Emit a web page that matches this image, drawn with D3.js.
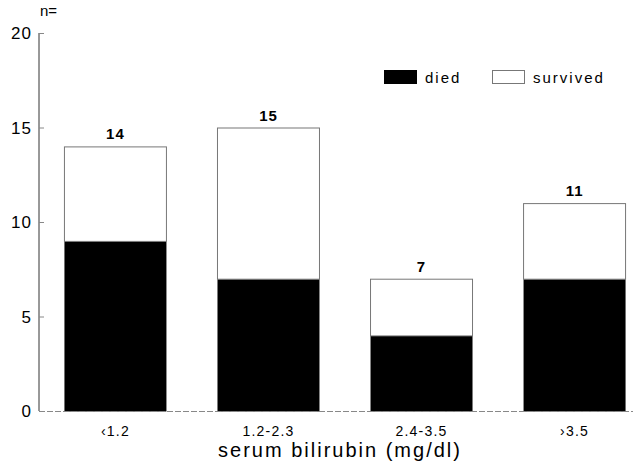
<!DOCTYPE html>
<html>
<head>
<meta charset="utf-8">
<script src="https://cdn.jsdelivr.net/npm/d3@7"></script>
<style>
  body { margin: 0; background: #fff; }
  svg { display: block; font-family: "Liberation Sans", Arial, sans-serif; }
</style>
</head>
<body>
<div id="grafica"></div>
<script>
// datos
var categorias = ["\u20391.2", "1.2-2.3", "2.4-3.5", "\u203A3.5"]
var muertos = [9, 7, 4, 7]
var supervivientes = [5, 8, 3, 4]
var totales = [14, 15, 7, 11]
var ticksY = [0, 5, 10, 15, 20]

var width = 633
var height = 467

var svg = d3.select("#grafica")
    .append("svg")
    .attr("width", width)
    .attr("height", height)

var x = d3.scaleBand()
    .domain(categorias)
    .range([39, 651])
    .paddingInner(0.327)
    .paddingOuter(0.163)

var y = d3.scaleLinear()
    .domain([0, 20])
    .range([411, 33])

var datos = categorias.map((c, i) => ({ cat: c, died: muertos[i], survived: supervivientes[i], total: totales[i] }))
var pila = d3.stack().keys(["died", "survived"])(datos)

// barras apiladas
svg.append("g")
    .selectAll("g")
    .data(pila)
    .join("g")
    .attr("fill", d => d.key == "died" ? "#000" : "#fff")
    .attr("stroke", d => d.key == "died" ? "none" : "#777")
    .attr("stroke-width", 1)
    .selectAll("rect")
    .data(d => d)
    .join("rect")
    .attr("x", d => x(d.data.cat) + 0.5)
    .attr("y", d => y(d[1]) + 0.5)
    .attr("width", x.bandwidth() - 1)
    .attr("height", d => y(d[0]) - y(d[1]))

// totales encima de las barras
svg.append("g")
    .selectAll("text")
    .data(datos)
    .join("text")
    .attr("x", d => x(d.cat) + x.bandwidth() / 2)
    .attr("y", d => y(d.total) - 7)
    .attr("text-anchor", "middle")
    .attr("font-size", "15px")
    .attr("font-weight", "bold")
    .attr("letter-spacing", "1px")
    .text(d => d.total)

// eje y
var ejeY = svg.append("g")
    .attr("transform", "translate(39,0)")
    .call(d3.axisRight(y).tickValues(ticksY).tickSize(5).tickFormat(""))
ejeY.select(".domain").attr("stroke", "#333").attr("d", "M0," + y(20) + "V" + y(0))
ejeY.selectAll(".tick line").attr("stroke", "#888")

svg.append("g")
    .selectAll("text")
    .data(ticksY)
    .join("text")
    .attr("x", 32)
    .attr("y", d => y(d) + 6)
    .attr("text-anchor", "end")
    .attr("font-size", "17px")
    .attr("letter-spacing", "1px")
    .text(d => d)

svg.append("text")
    .attr("x", 40)
    .attr("y", 16)
    .attr("font-size", "15px")
    .text("n=")

// eje x
var ejeX = svg.append("g")
    .attr("transform", "translate(0," + y(0) + ")")
    .call(d3.axisBottom(x).tickSize(0).tickPadding(15))
ejeX.select(".domain").attr("stroke", "#888").attr("stroke-dasharray", "6,2").attr("d", "M39,0.5H633")
ejeX.selectAll(".tick text")
    .attr("font-size", "14px")
    .attr("letter-spacing", "1.2px")
    .attr("font-family", "Liberation Sans, Arial, sans-serif")
    .attr("fill", "#000")

svg.append("text")
    .attr("x", 340)
    .attr("y", 457)
    .attr("text-anchor", "middle")
    .attr("font-size", "20px")
    .attr("letter-spacing", "2px")
    .text("serum bilirubin (mg/dl)")

// leyenda
var leyenda = [
    { nombre: "died", color: "#000", x: 384 },
    { nombre: "survived", color: "#fff", x: 492 }
]
var gLey = svg.append("g")
    .selectAll("g")
    .data(leyenda)
    .join("g")
    .attr("transform", d => "translate(" + d.x + ",70)")
gLey.append("rect")
    .attr("x", 0.5)
    .attr("y", 0.5)
    .attr("width", 32)
    .attr("height", 13)
    .attr("fill", d => d.color)
    .attr("stroke", d => d.color == "#000" ? "#000" : "#777")
gLey.append("text")
    .attr("x", 41)
    .attr("y", 13)
    .attr("font-size", "15px")
    .attr("letter-spacing", "2px")
    .text(d => d.nombre)
</script>
</body>
</html>
